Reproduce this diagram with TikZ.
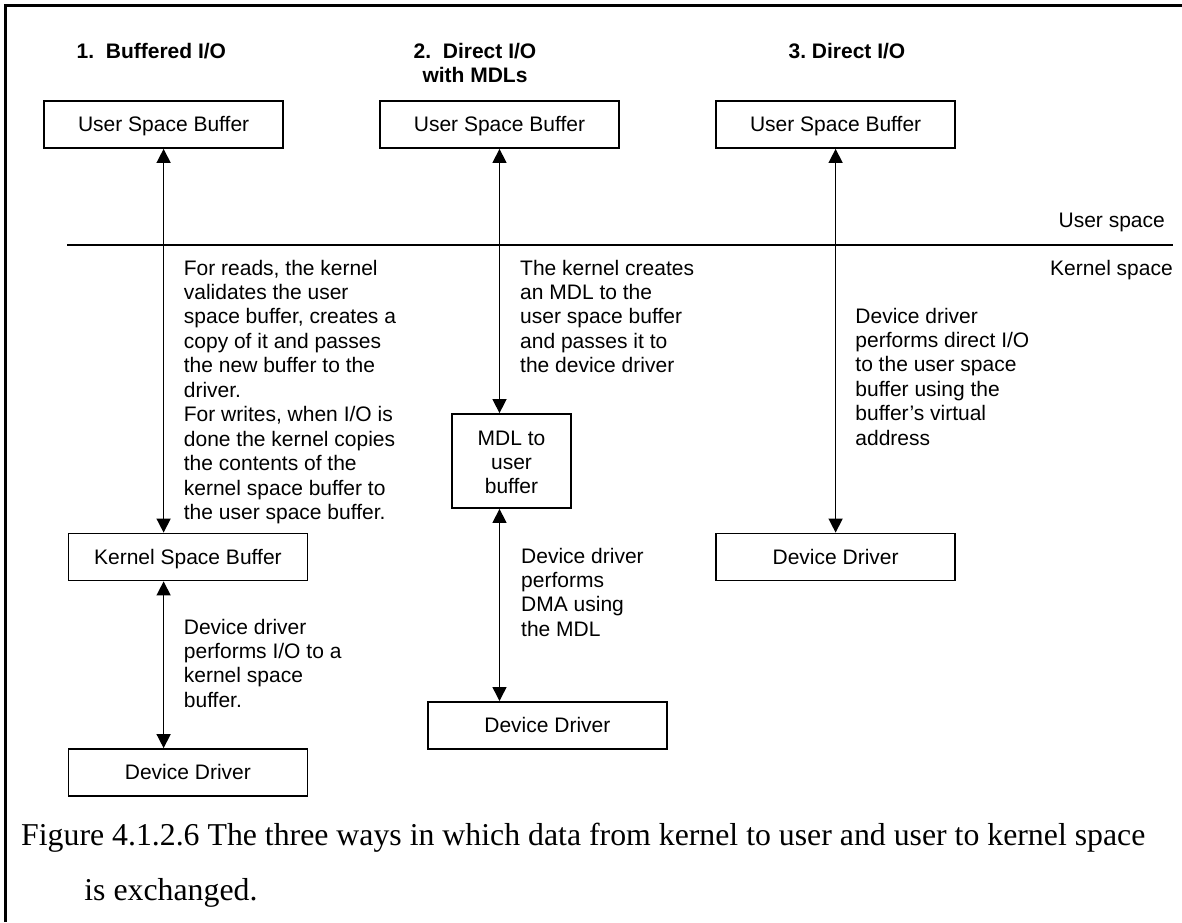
\documentclass[tikz,border=0pt]{standalone}
\usepackage{fontspec}
\newfontfamily\sansfam{Liberation Sans}
\newfontfamily\seriffam{Liberation Serif}
\usetikzlibrary{arrows.meta}
\frenchspacing
\begin{document}
\begin{tikzpicture}[x=1pt,y=-1pt,
  box/.style={draw,line width=1.8pt,inner sep=0pt,minimum width=239pt,minimum height=47pt,
    text height=14pt,text depth=0pt,font=\sansfam\fontsize{21}{24.45}\selectfont},
  txt/.style={inner sep=0pt,anchor=base west,font=\sansfam\fontsize{21}{24.45}\selectfont},
  head/.style={txt,font=\sansfam\bfseries\fontsize{21}{24.45}\selectfont},
  link/.style={line width=1.5pt,{Triangle[width=14pt,length=14pt]}-{Triangle[width=14pt,length=14pt]}},
  capt/.style={inner sep=0pt,anchor=base west,font=\seriffam\fontsize{31.8}{55}\selectfont},
]
\useasboundingbox (0,0) rectangle (1182,922);

% frame: left and top edges
\draw[line width=3pt] (5,922) -- (5,5) -- (1182,5);

% column headings
\node[head] (h1) at (76.5,58.3) {1.\ \ Buffered I/O};
\node[head,anchor=base] (h2) at (475,58.3) {\parbox[t]{200pt}{\centering 2.\ \ Direct I/O\\with MDLs}};
\node[head] (h3) at (788.4,58.3) {3.\ Direct I/O};

% user space / kernel space divider
\coordinate (divL) at (67.4,245);
\coordinate (divR) at (1173,245);
\draw[line width=1.8pt] (divL) -- (divR);
\node[txt,anchor=base east] (lu) at (1165,227) {User space};
\node[txt,anchor=base east] (lk) at (1173,275) {Kernel space};

% boxes
\node[box] (usb1) at (163.6,124.5) {User Space Buffer};
\node[box] (usb2) at (499.5,124.5) {User Space Buffer};
\node[box] (usb3) at (835.6,124.5) {User Space Buffer};
\node[box] (ksb) at (187.9,557) {Kernel Space Buffer};
\node[box] (dd1) at (187.9,772.5) {Device Driver};
\node[box,minimum width=119pt,minimum height=94pt] (mdl) at (511.5,461) {};
\node[txt,anchor=base] (mdltext) at (511.5,445) {\parbox[t]{110pt}{\centering MDL to\\user\\buffer}};
\node[box] (dd2) at (547.4,725.4) {Device Driver};
\node[box] (dd3) at (835.6,557) {Device Driver};

% connectors
\draw[link] (usb1.south) -- (usb1.south |- ksb.north);
\draw[link] (ksb.south -| usb1.south) -- (dd1.north -| usb1.south);
\draw[link] (usb2.south) -- (usb2.south |- mdl.north);
\draw[link] (mdl.south -| usb2.south) -- (dd2.north -| usb2.south);
\draw[link] (usb3.south) -- (usb3.south |- dd3.north);

% explanations
\node[txt] (t1) at (183.7,275) {\parbox[t]{320pt}{\raggedright
  For reads, the kernel\\validates the user\\space buffer, creates a\\copy of it and passes\\the new buffer to the\\driver.\\
  For writes, when I/O is\\done the kernel copies\\the contents of the\\kernel space buffer to\\the user space buffer.}};
\node[txt] (t1b) at (183.7,634) {\parbox[t]{320pt}{\raggedright
  Device driver\\performs I/O to a\\kernel space\\buffer.}};
\node[txt] (t2) at (520,275) {\parbox[t]{320pt}{\raggedright
  The kernel creates\\an MDL to the\\user space buffer\\and passes it to\\the device driver}};
\node[txt] (t2b) at (521,563) {\parbox[t]{320pt}{\raggedright
  Device driver\\performs\\DMA using\\the MDL}};
\node[txt] (t3) at (855.2,323) {\parbox[t]{320pt}{\raggedright
  Device driver\\performs direct I/O\\to the user space\\buffer using the\\buffer’s virtual\\address}};

% caption
\node[capt] (cap1) at (21,845) {Figure 4.1.2.6 The three ways in which data from kernel to user and user to kernel space};
\node[capt] (cap2) at (84.2,900) {is exchanged.};
\end{tikzpicture}
\end{document}
